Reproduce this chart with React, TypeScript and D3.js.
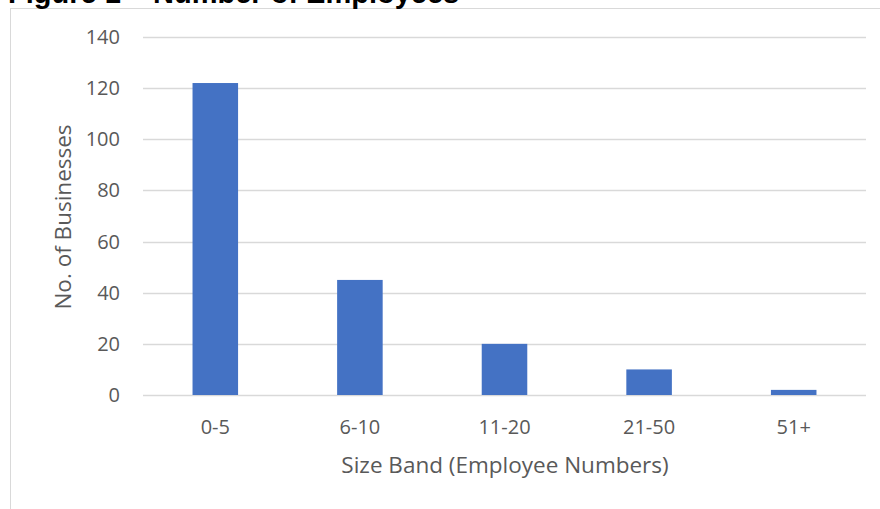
import React, { useEffect, useRef } from 'react';
import * as d3 from 'd3';

const categories = ['0-5', '6-10', '11-20', '21-50', '51+'];
const businesses = [122, 45, 20, 10, 2];
const yTicks = [0, 20, 40, 60, 80, 100, 120, 140];

const chartTitle = 'Figure 1 – Number of Employees';
const xTitle = 'Size Band (Employee Numbers)';
const yTitle = 'No. of Businesses';

const App = () => {
  const ref = useRef<SVGSVGElement>(null);

  const width = 880;
  const height = 509;
  const margin = { top: 37, right: 14, bottom: 114, left: 143 };

  useEffect(() => {
    const svg = d3.select(ref.current);
    svg.selectAll('*').remove();

    const font = "'Open Sans', sans-serif";

    // chart frame
    svg
      .append('rect')
      .attr('x', 10.5)
      .attr('y', 8.5)
      .attr('width', 900)
      .attr('height', 600)
      .attr('fill', '#ffffff')
      .attr('stroke', '#d9d9d9')
      .attr('stroke-width', 1);

    // title (cut off at the top)
    svg
      .append('text')
      .attr('x', 8)
      .attr('y', 3)
      .text(chartTitle)
      .style('font-family', "'Liberation Sans', Arial, sans-serif")
      .style('font-weight', 'bold')
      .style('font-size', '29px')
      .style('fill', '#000000');

    const x = d3
      .scaleBand()
      .domain(categories)
      .range([margin.left, width - margin.right])
      .paddingInner(0.685)
      .paddingOuter(0.3425);

    const y = d3
      .scaleLinear()
      .domain([0, 140])
      .range([height - margin.bottom, margin.top]);

    // gridlines
    svg
      .append('g')
      .selectAll('line')
      .data(yTicks)
      .enter()
      .append('line')
      .attr('x1', margin.left)
      .attr('x2', width - margin.right)
      .attr('y1', (d) => Math.round(y(d)) + 0.5)
      .attr('y2', (d) => Math.round(y(d)) + 0.5)
      .attr('stroke', '#d9d9d9')
      .attr('stroke-width', 1.3);

    // y tick labels
    svg
      .append('g')
      .selectAll('text')
      .data(yTicks)
      .enter()
      .append('text')
      .attr('x', 120)
      .attr('y', (d) => y(d))
      .attr('dy', '0.35em')
      .attr('text-anchor', 'end')
      .text((d) => d)
      .style('font-family', font)
      .style('font-size', '20px')
      .style('fill', '#595959');

    // bars
    svg
      .append('g')
      .selectAll('rect')
      .data(businesses)
      .enter()
      .append('rect')
      .attr('x', (_, i) => x(categories[i]))
      .attr('y', (d) => y(d))
      .attr('width', x.bandwidth())
      .attr('height', (d) => y(0) - y(d))
      .attr('fill', '#4472c4');

    // category labels
    svg
      .append('g')
      .selectAll('text')
      .data(categories)
      .enter()
      .append('text')
      .attr('x', (d) => x(d) + x.bandwidth() / 2)
      .attr('y', 427)
      .attr('dy', '0.35em')
      .attr('text-anchor', 'middle')
      .text((d) => d)
      .style('font-family', font)
      .style('font-size', '20px')
      .style('fill', '#595959');

    // axis titles
    svg
      .append('text')
      .attr('x', 505)
      .attr('y', 465)
      .attr('dy', '0.35em')
      .attr('text-anchor', 'middle')
      .text(xTitle)
      .style('font-family', font)
      .style('font-size', '22.5px')
      .style('fill', '#595959');

    svg
      .append('text')
      .attr('transform', `translate(63, 217) rotate(-90)`)
      .attr('dy', '0.35em')
      .attr('text-anchor', 'middle')
      .text(yTitle)
      .style('font-family', font)
      .style('font-size', '22.5px')
      .style('fill', '#595959');
  }, []);

  return (
    <svg
      ref={ref}
      width={width}
      height={height}
      style={{ position: 'absolute', left: 0, top: 0, background: '#ffffff' }}
    />
  );
};

export default App;
